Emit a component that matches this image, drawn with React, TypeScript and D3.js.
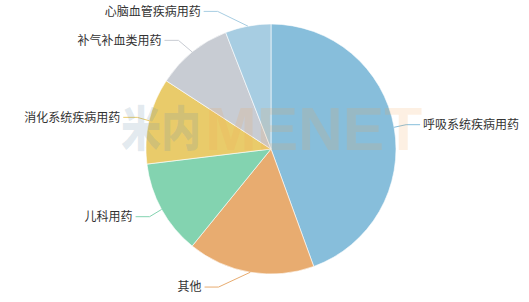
import React from "react";
import * as d3 from "d3";

// Share of sales by therapeutic category (%)
const categories = [
  "呼吸系统疾病用药",
  "其他",
  "儿科用药",
  "消化系统疾病用药",
  "补气补血类用药",
  "心脑血管疾病用药",
];
const shares = [44.4, 16.4, 12.2, 11.1, 9.9, 5.9];
const palette = ["#87bedb", "#e8ac70", "#83d3b0", "#e9cb6a", "#c8ccd3", "#a7cde2"];

const WIDTH = 529;
const HEIGHT = 302;
const CX = 271;
const CY = 149;
const R = 125;
const LEN1 = 15; // radial part of the guide line
const OUTER = R + 30; // curve the label elbows sit inside
const INSET = 18;
const LEG = 14; // horizontal part of the guide line

type Row = { name: string; value: number; color: string };
const rows: Row[] = categories.map((name, i) => ({ name, value: shares[i], color: palette[i] }));

export default function App() {
  const pie = d3
    .pie<Row>()
    .sort(null)
    .value((d) => d.value)
    .startAngle(0)
    .endAngle(Math.PI * 2);
  const arcs = pie(rows);
  const arcGen = d3.arc<d3.PieArcDatum<Row>>().innerRadius(0).outerRadius(R);

  const labels = arcs.map((a) => {
    const mid = (a.startAngle + a.endAngle) / 2;
    const dx = Math.sin(mid);
    const dy = -Math.cos(mid);
    const dir = dx >= 0 ? 1 : -1;
    const ex = CX + R * dx;
    const ey = CY + R * dy;
    const ly = CY + (R + LEN1) * dy;
    const off = Math.sqrt(Math.max(0, OUTER * OUTER - (ly - CY) * (ly - CY))) - INSET;
    const lx = CX + dir * off;
    const tx = lx + dir * LEG;
    return { a, dir, ex, ey, lx, ly, tx };
  });

  return (
    <svg
      width={WIDTH}
      height={HEIGHT}
      style={{ position: "absolute", left: 0, top: 0, background: "#fff" }}
      fontFamily="'Microsoft YaHei','Noto Sans CJK SC',sans-serif"
    >
      <g>
        {arcs.map((a, i) => (
          <path
            key={i}
            d={arcGen(a) || ""}
            transform={`translate(${CX},${CY})`}
            fill={a.data.color}
            stroke="#fff"
            strokeWidth={0.6}
          />
        ))}
      </g>
      <g>
        {labels.map((l, i) => (
          <g key={i}>
            <polyline
              points={`${l.ex},${l.ey} ${l.lx},${l.ly} ${l.tx},${l.ly}`}
              fill="none"
              stroke={l.a.data.color}
              strokeWidth={1}
            />
            <text
              x={l.tx + l.dir * 3}
              y={l.ly}
              dy="0.35em"
              fontSize={12}
              fill="#333"
              textAnchor={l.dir > 0 ? "start" : "end"}
            >
              {l.a.data.name}
            </text>
          </g>
        ))}
      </g>
      {/* brand watermark */}
      <g pointerEvents="none" fontWeight={900}>
        <text transform="translate(121,146) scale(1,1.2)" fontSize={40} fill="#6d93ad" fillOpacity={0.2}>
          米内
        </text>
        <text
          x={205}
          y={150}
          fontSize={62}
          fontFamily="'Liberation Sans',Arial,sans-serif"
          fill="#f0a050"
          fillOpacity={0.16}
        >
          MENET
        </text>
      </g>
    </svg>
  );
}
